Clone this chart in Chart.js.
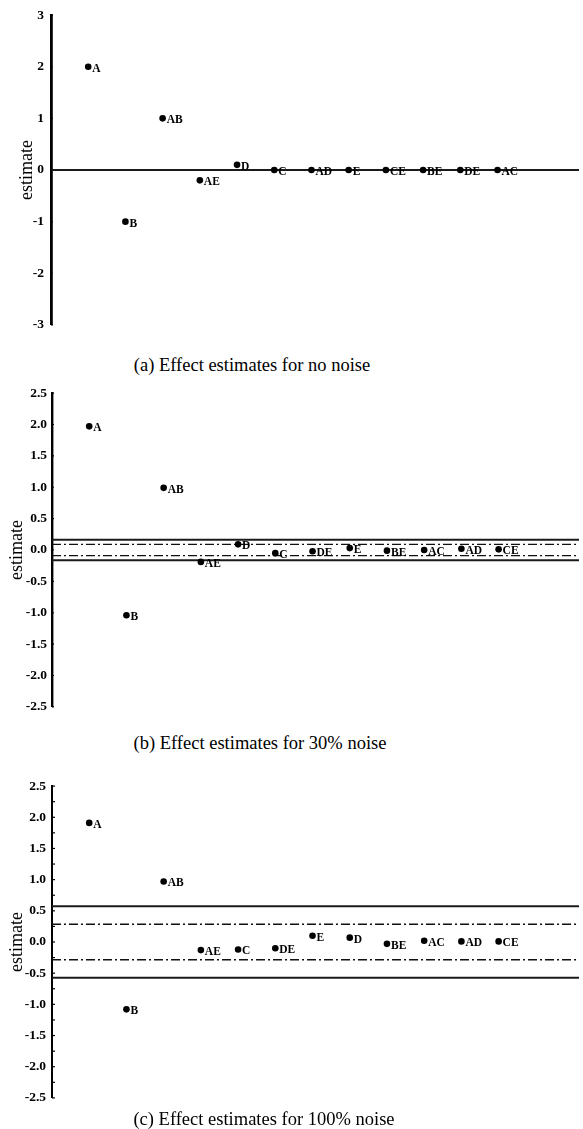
<!DOCTYPE html>
<html>
<head>
<meta charset="utf-8">
<script src="https://cdn.jsdelivr.net/npm/chart.js@4/dist/chart.umd.min.js"></script>
<style>
  html, body { margin: 0; padding: 0; background: #fff; }
  body { width: 583px; height: 1129px; position: relative; overflow: hidden; }
  .panel { position: absolute; left: 0; width: 583px; height: 340px; }
  .cap { position: absolute; font-family: "Liberation Serif", "Times New Roman", serif; font-size: 18.5px; color: #000; white-space: nowrap; transform: translate(-50%, -50%); }
</style>
</head>
<body>
<div class="panel" style="top:0px"><canvas id="ca"></canvas></div>
<div class="panel" style="top:380px"><canvas id="cb"></canvas></div>
<div class="panel" style="top:772px"><canvas id="cc"></canvas></div>
<div class="cap" style="left:252px; top:365px">(a) Effect estimates for no noise</div>
<div class="cap" style="left:260px; top:743px">(b) Effect estimates for 30% noise</div>
<div class="cap" style="left:264px; top:1119px">(c) Effect estimates for 100% noise</div>
<script>
// ---- data ----
const positions = [1, 2, 3, 4, 5, 6, 7, 8, 9, 10, 11, 12];

const effectsA = ['A', 'B', 'AB', 'AE', 'D', 'C', 'AD', 'E', 'CE', 'BE', 'DE', 'AC'];
const estimatesA = [2.0, -1.0, 1.0, -0.2, 0.1, 0.0, 0.0, 0.0, 0.0, 0.0, 0.0, 0.0];

const effectsB = ['A', 'B', 'AB', 'AE', 'D', 'C', 'DE', 'E', 'BE', 'AC', 'AD', 'CE'];
const estimatesB = [1.97, -1.04, 0.99, -0.19, 0.09, -0.05, -0.02, 0.03, -0.01, 0.0, 0.02, 0.01];

const effectsC = ['A', 'B', 'AB', 'AE', 'C', 'DE', 'E', 'D', 'BE', 'AC', 'AD', 'CE'];
const estimatesC = [1.91, -1.08, 0.97, -0.13, -0.12, -0.10, 0.10, 0.07, -0.03, 0.02, 0.01, 0.01];

const solidLinesA = [0];
const dashLinesA = [];
const solidLinesB = [0.165, -0.165];
const dashLinesB = [0.089, -0.089];
const solidLinesC = [0.574, -0.574];
const dashLinesC = [0.285, -0.285];

const yTicksA = { min: -3, max: 3, step: 1 };
const yTicksBC = { min: -2.5, max: 2.5, step: 0.5 };

// ---- plugins ----
const pointLabelPlugin = {
  id: 'pointLabels',
  afterDatasetsDraw(chart) {
    const ctx = chart.ctx;
    const meta = chart.getDatasetMeta(0);
    const labels = chart.data.datasets[0].effectNames;
    ctx.save();
    ctx.fillStyle = '#000';
    ctx.font = 'bold 11.5px "Liberation Serif", "Times New Roman", serif';
    ctx.textAlign = 'left';
    ctx.textBaseline = 'middle';
    meta.data.forEach((el, i) => {
      ctx.fillText(labels[i], el.x + 4, el.y + 2);
    });
    ctx.restore();
  }
};

const axisTickPlugin = {
  id: 'axisTicks',
  afterDraw(chart, args, opts) {
    const s = chart.scales.y;
    const ctx = chart.ctx;
    const x0 = chart.chartArea.left;
    ctx.save();
    ctx.strokeStyle = '#000';
    ctx.lineWidth = 1.2;
    s.ticks.forEach(t => {
      const y = s.getPixelForValue(t.value);
      ctx.beginPath();
      ctx.moveTo(x0, y);
      ctx.lineTo(x0 + (opts.len || 3), y);
      ctx.stroke();
    });
    ctx.restore();
  }
};

function hLine(v, xmax, dashed, width) {
  return {
    data: [{ x: 0, y: v }, { x: xmax, y: v }],
    showLine: true,
    pointRadius: 0,
    borderColor: dashed ? '#111' : '#1a1a1a',
    borderWidth: width,
    borderDash: dashed ? [9, 3, 2, 3] : [],
    fill: false
  };
}

function makePanel(id, names, vals, solid, dash, yt, cfg) {
  const pts = positions.map((p, i) => ({ x: p, y: vals[i] }));
  const datasets = [{
    data: pts,
    effectNames: names,
    pointRadius: 3.3,
    pointBackgroundColor: '#000',
    pointBorderWidth: 0,
    showLine: false
  }];
  solid.forEach(v => datasets.push(hLine(v, cfg.xmax, false, 2)));
  dash.forEach(v => datasets.push(hLine(v, cfg.xmax, true, 1.3)));

  new Chart(document.getElementById(id), {
    type: 'scatter',
    data: { datasets },
    options: {
      responsive: true,
      maintainAspectRatio: false,
      animation: false,
      devicePixelRatio: 1,
      layout: { padding: { top: 13, bottom: 9, left: 0, right: 0 } },
      plugins: {
        legend: { display: false },
        tooltip: { enabled: false },
        axisTicks: { len: cfg.tickLen }
      },
      scales: {
        x: { type: 'linear', display: false, min: 0, max: cfg.xmax },
        y: {
          type: 'linear',
          min: yt.min, max: yt.max,
          afterFit: s => { s.width = cfg.axisX; },
          grid: { display: false, drawTicks: false },
          border: { display: true, color: '#000', width: cfg.axisW },
          ticks: {
            stepSize: cfg.minorStep || yt.step,
            autoSkip: false,
            padding: cfg.tickPad,
            color: '#000',
            font: { family: '"Liberation Serif", "Times New Roman", serif', size: 13.5, weight: 'bold' },
            callback: v => {
              const k = v / yt.step;
              if (Math.abs(k - Math.round(k)) > 1e-9) return '';
              return cfg.decimals ? v.toFixed(1) : String(v);
            }
          },
          title: {
            display: true,
            text: 'estimate',
            color: '#000',
            font: { family: '"Liberation Serif", "Times New Roman", serif', size: 18 },
            padding: { top: cfg.titlePad, bottom: 0 }
          }
        }
      }
    },
    plugins: [pointLabelPlugin, axisTickPlugin]
  });
}

makePanel('ca', effectsA, estimatesA, solidLinesA, dashLinesA, yTicksA,
  { xmax: 14.19, axisX: 51, axisW: 2.8, tickPad: 7, titlePad: 16, decimals: false, tickLen: 2 });
makePanel('cb', effectsB, estimatesB, solidLinesB, dashLinesB, yTicksBC,
  { xmax: 14.16, axisX: 52, axisW: 2.4, tickPad: 5, titlePad: 6, decimals: true, tickLen: 2 });
makePanel('cc', effectsC, estimatesC, solidLinesC, dashLinesC, yTicksBC,
  { xmax: 14.16, axisX: 52, axisW: 2, tickPad: 6, titlePad: 6, decimals: true, tickLen: 3, minorStep: 0.25 });
</script>
</body>
</html>
